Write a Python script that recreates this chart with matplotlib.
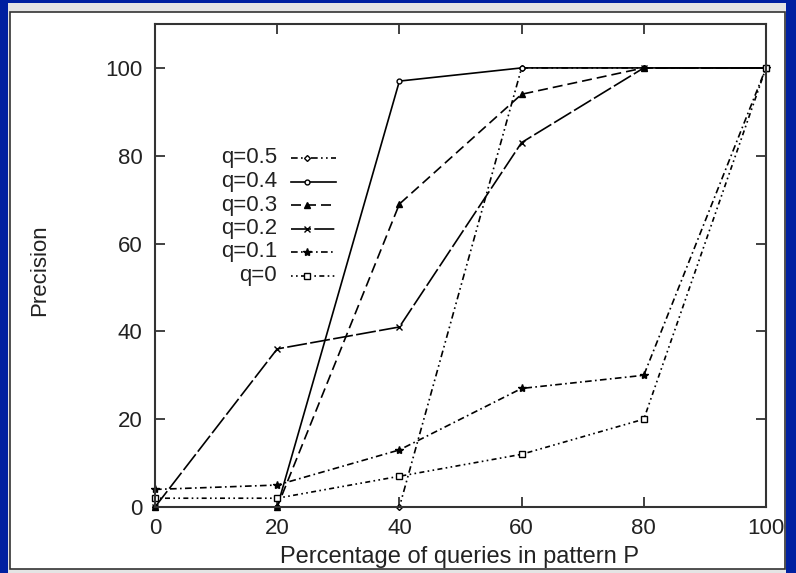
import matplotlib
matplotlib.use("Agg")
import matplotlib.pyplot as plt
from matplotlib.patches import Rectangle
from matplotlib.lines import Line2D

x_pct = [0, 20, 40, 60, 80, 100]
labels = ["q=0.5", "q=0.4", "q=0.3", "q=0.2", "q=0.1", "q=0"]
q05 = [0, 0, 0, 100, 100, 100]
q04 = [0, 0, 97, 100, 100, 100]
q03 = [0, 0, 69, 94, 100, 100]
q02 = [0, 36, 41, 83, 100, 100]
q01 = [4, 5, 13, 27, 30, 100]
q00 = [2, 2, 7, 12, 20, 100]
xticks = [0, 20, 40, 60, 80, 100]
yticks = [0, 20, 40, 60, 80, 100]

plt.rcParams['font.family'] = ['Liberation Sans', 'DejaVu Sans']

series = [q05, q04, q03, q02, q01, q00]
styles = [
    dict(ls=(0, (4, 2, 1, 2, 1, 2)), marker="D", ms=3, mfc="white"),
    dict(ls="-", marker="o", ms=3.5, mfc="white"),
    dict(ls=(0, (6, 3)), marker="^", ms=5, mfc="black"),
    dict(ls=(0, (12, 2)), marker="x", ms=5, mfc="black"),
    dict(ls=(0, (4, 2, 1, 2)), marker="*", ms=6, mfc="black"),
    dict(ls=(0, (1, 2, 1, 2, 3, 2)), marker="s", ms=5, mfc="white"),
]

W, H = 796, 573
FS = 16
fig = plt.figure(figsize=(W / 100, H / 100), dpi=100)
fig.patch.set_facecolor("#0020a0")
fig.patches.append(Rectangle((8 / W, 0), (786 - 8) / W, (573 - 3) / H,
                             transform=fig.transFigure, facecolor="#e4e4e4",
                             edgecolor="none", zorder=-2))
fig.patches.append(Rectangle((10 / W, (573 - 569) / H), (785 - 10) / W, (569 - 12) / H,
                             transform=fig.transFigure, facecolor="white",
                             edgecolor="#333333", lw=1.2, zorder=-1))

ax = fig.add_axes([155 / W, (573 - 507) / H, 611 / W, 483 / H])
ax.set_zorder(5)
ax.set_facecolor("white")
for ys, st in zip(series, styles):
    ax.plot(x_pct, ys, color="black", lw=1.2, linestyle=st["ls"], marker=st["marker"],
            ms=st["ms"], mfc=st["mfc"], mec="black", mew=1.0, clip_on=False)

ax.set_xlim(0, 100)
ax.set_ylim(0, 110)
ax.set_xticks(xticks)
ax.set_yticks(yticks)
ax.tick_params(direction="in", length=7, width=1.3, color="#333333",
               top=True, right=True, labelsize=FS, labelcolor="#222222")
ax.tick_params(axis="y", pad=9)
ax.tick_params(axis="x", pad=8)
for s in ax.spines.values():
    s.set_color("#333333")
    s.set_linewidth(1.5)

fig.text(40 / W, 1 - 270 / H, "Precision", rotation=90, ha="center", va="center",
         fontsize=FS, color="#222222", zorder=6)
fig.text(459 / W, 1 - 563 / H, "Percentage of queries in pattern P", ha="center",
         va="baseline", fontsize=17, color="#222222", zorder=6)

# legend (key) drawn in axes fraction coordinates
row0 = 158
for i, (lab, st) in enumerate(zip(labels, styles)):
    ypx = row0 + i * 23.5
    yf = (507 - ypx) / 483
    ax.text((277 - 155) / 611, yf, lab, ha="right", va="center", fontsize=FS,
            color="#222222", transform=ax.transAxes)
    ln = Line2D([(291 - 155) / 611, (336 - 155) / 611], [yf, yf], color="black", lw=1.2,
                linestyle=st["ls"], transform=ax.transAxes)
    ax.add_line(ln)
    mk = Line2D([(307 - 155) / 611], [yf], marker=st["marker"], ms=st["ms"], mfc=st["mfc"],
                mec="black", mew=1.0, linestyle="none", transform=ax.transAxes)
    ax.add_line(mk)

fig.savefig("out.png", dpi=100, facecolor=fig.get_facecolor())
